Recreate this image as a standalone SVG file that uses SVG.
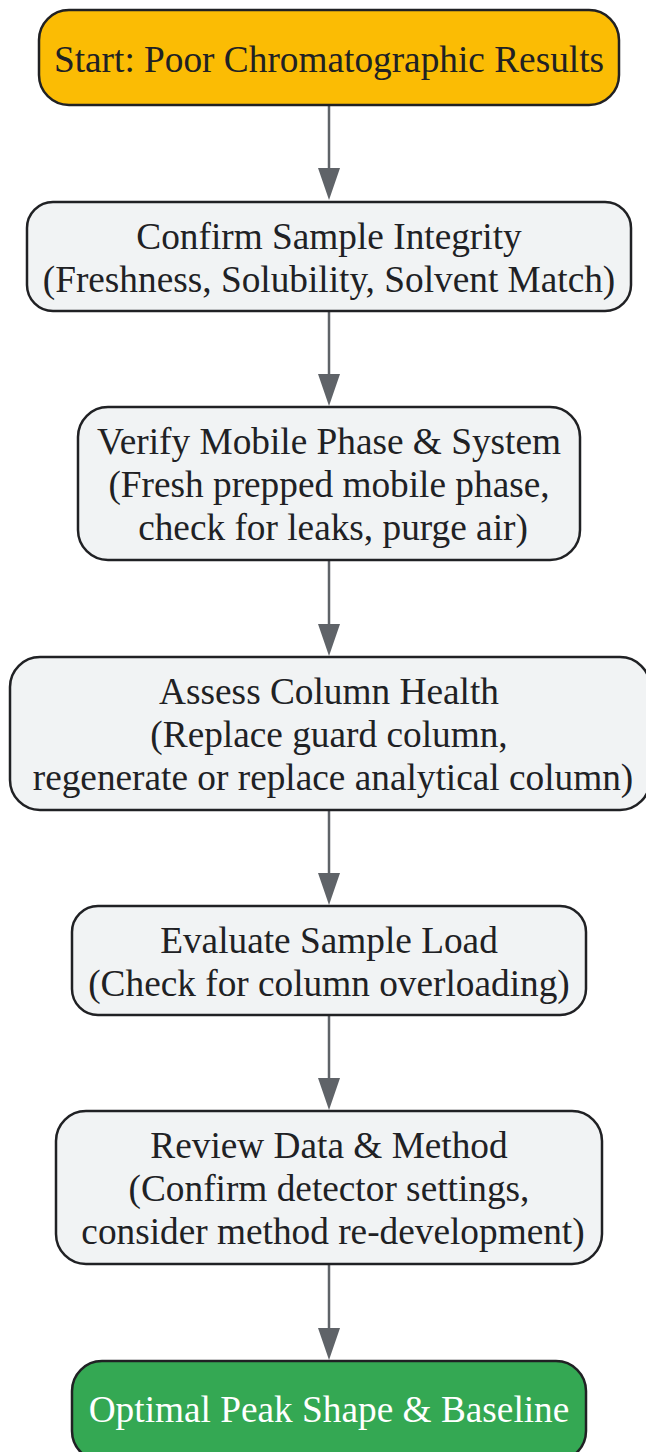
<svg xmlns="http://www.w3.org/2000/svg" width="646" height="1452" viewBox="0 0 646 1452">
<defs>
<style>
.n rect{fill:#f1f3f4;stroke:#202124;stroke-width:2.5}
.n text{font-family:"Liberation Serif","Times New Roman",serif;font-size:37.3px;fill:#202124;text-anchor:middle;dominant-baseline:central}
#start rect{fill:#fbbc04}
#end rect{fill:#34a853}
#end text{fill:#ffffff}
.e line{stroke:#5f6368;stroke-width:2.5}
.e path{fill:#5f6368}
</style>
</defs>
<g class="e" id="connectors">
<line x1="329" y1="105" x2="329" y2="172"/><path d="M318,168 L340,168 L329,200 Z"/>
<line x1="329" y1="311" x2="329" y2="378"/><path d="M318,374 L340,374 L329,406 Z"/>
<line x1="329" y1="560" x2="329" y2="628"/><path d="M318,624 L340,624 L329,656 Z"/>
<line x1="329" y1="810" x2="329" y2="877"/><path d="M318,873 L340,873 L329,905 Z"/>
<line x1="329" y1="1015" x2="329" y2="1082"/><path d="M318,1078 L340,1078 L329,1110 Z"/>
<line x1="329" y1="1264" x2="329" y2="1332"/><path d="M318,1328 L340,1328 L329,1360 Z"/>
</g>
<g class="n" id="start"><rect x="39" y="10" width="580" height="95" rx="30"/><text x="329" y="59">Start: Poor Chromatographic Results</text></g>
<g class="n" id="n1"><rect x="27" y="202" width="604" height="109" rx="26"/><text x="329" y="236">Confirm Sample Integrity</text><text x="329" y="279">(Freshness, Solubility, Solvent Match)</text></g>
<g class="n" id="n2"><rect x="78" y="407" width="502" height="153" rx="30"/><text x="329" y="441">Verify Mobile Phase &amp; System</text><text x="329" y="484">(Fresh prepped mobile phase,</text><text x="333" y="527">check for leaks, purge air)</text></g>
<g class="n" id="n3"><rect x="10" y="657" width="640" height="153" rx="30"/><text x="329" y="691">Assess Column Health</text><text x="329" y="734">(Replace guard column,</text><text x="333" y="777">regenerate or replace analytical column)</text></g>
<g class="n" id="n4"><rect x="72" y="906" width="514" height="109" rx="26"/><text x="329" y="940">Evaluate Sample Load</text><text x="329" y="983">(Check for column overloading)</text></g>
<g class="n" id="n5"><rect x="56" y="1111" width="546" height="153" rx="30"/><text x="329" y="1145">Review Data &amp; Method</text><text x="329" y="1188">(Confirm detector settings,</text><text x="333" y="1231">consider method re-development)</text></g>
<g class="n" id="end"><rect x="72" y="1361" width="514" height="100" rx="30"/><text x="329" y="1409">Optimal Peak Shape &amp; Baseline</text></g>
</svg>
